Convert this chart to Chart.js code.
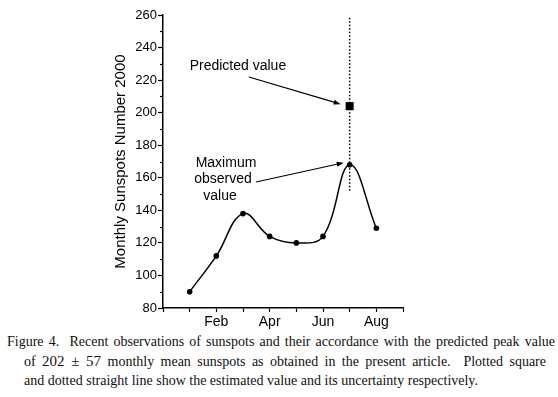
<!DOCTYPE html>
<html lang="en">
<head>
  <meta charset="UTF-8">
  <title>Monthly Sunspots Number 2000</title>
  <script src="https://cdn.jsdelivr.net/npm/chart.js"></script>
  <style>
    body { margin: 0; background: #fff; width: 558px; height: 397px; position: relative; overflow: hidden; }
    #chart-box { position: absolute; left: 0; top: 0; width: 558px; height: 330px; }
    .cap { position: absolute; font-family: "Liberation Serif", "DejaVu Serif", serif; font-size: 14px; color: #111; white-space: nowrap; }
    .just { text-align: justify; text-align-last: justify; white-space: normal; }
    .pm { font-size: 15px; }
  </style>
</head>
<body>
  <div id="chart-box"><canvas id="sunChart" width="558" height="330"></canvas></div>

  <div class="cap just" style="left:7px; top:334px; width:548px;">Figure 4.&nbsp; Recent observations of sunspots and their accordance with the predicted peak value</div>
  <div class="cap just" style="left:24px; top:353px; width:522px;">of <span class="pm">202 &plusmn; 57</span> monthly mean sunspots as obtained in the present article.&nbsp; Plotted square</div>
  <div class="cap" style="left:24px; top:373px;">and dotted straight line show the estimated value and its uncertainty respectively.</div>

  <script>
    // observed monthly values (month index: Jan = 1)
    const months = [1, 2, 3, 4, 5, 6, 7, 8];
    const sunspots = [90, 112, 138, 124, 120, 124, 168, 129];

    // predicted peak and the visible part of its uncertainty line
    const predictedMonth = 7;
    const predictedValue = 204;
    const uncertaintyRange = [152, 259];

    // axis labels
    const xTickValues = [2, 4, 6, 8];
    const xTickNames = ['Feb', 'Apr', 'Jun', 'Aug'];

    const black = '#000';

    function arrow(ctx, x1, y1, x2, y2) {
      const a = Math.atan2(y2 - y1, x2 - x1);
      const len = 7, w = 2.5;
      ctx.beginPath();
      ctx.moveTo(x1, y1);
      ctx.lineTo(x2 - Math.cos(a) * len, y2 - Math.sin(a) * len);
      ctx.stroke();
      ctx.beginPath();
      ctx.moveTo(x2, y2);
      ctx.lineTo(x2 - Math.cos(a) * len + Math.sin(a) * w, y2 - Math.sin(a) * len - Math.cos(a) * w);
      ctx.lineTo(x2 - Math.cos(a) * len - Math.sin(a) * w, y2 - Math.sin(a) * len + Math.cos(a) * w);
      ctx.closePath();
      ctx.fill();
    }

    const extras = {
      id: 'extras',
      afterDraw(chart) {
        const ctx = chart.ctx;
        const xs = chart.scales.x, ys = chart.scales.y;
        const left = chart.chartArea.left;
        ctx.save();
        ctx.strokeStyle = black;
        ctx.fillStyle = black;
        ctx.lineWidth = 1.2;

        // minor y ticks
        for (let v = 90; v < 260; v += 20) {
          const y = Math.round(ys.getPixelForValue(v)) + 0.5;
          ctx.beginPath();
          ctx.moveTo(left - 3, y);
          ctx.lineTo(left, y);
          ctx.stroke();
        }

        ctx.font = '14px Arial, "Liberation Sans", sans-serif';
        ctx.textAlign = 'center';
        ctx.textBaseline = 'middle';

        // "Predicted value" label and arrow
        ctx.fillText('Predicted value', xs.getPixelForValue(2.81), ys.getPixelForValue(228.7));
        const px = xs.getPixelForValue(predictedMonth), py = ys.getPixelForValue(predictedValue);
        arrow(ctx, xs.getPixelForValue(3.22), ys.getPixelForValue(221.9), px - 9, py - 2);

        // "Maximum observed value" label and arrow
        const mx = xs.getPixelForValue(2.25), my = ys.getPixelForValue(169.1);
        ctx.fillText('Maximum', mx + 3, my);
        ctx.fillText('observed', mx, my + 16.5);
        ctx.fillText('value', mx - 3, my + 33);
        const iMax = sunspots.indexOf(Math.max(...sunspots));
        const jx = xs.getPixelForValue(months[iMax]), jy = ys.getPixelForValue(sunspots[iMax]);
        arrow(ctx, xs.getPixelForValue(3.49), ys.getPixelForValue(157.4), jx - 6, jy - 2);

        ctx.restore();
      }
    };

    new Chart(document.getElementById('sunChart'), {
      type: 'line',
      data: {
        datasets: [
          {
            data: months.map((m, i) => ({ x: m, y: sunspots[i] })),
            borderColor: black,
            backgroundColor: black,
            borderWidth: 1.5,
            tension: 0.4,
            pointRadius: 2.8,
            pointBorderWidth: 0,
            fill: false
          },
          {
            data: uncertaintyRange.map(v => ({ x: predictedMonth, y: v })),
            borderColor: black,
            borderWidth: 1.5,
            borderDash: [1.5, 2],
            pointRadius: 0,
            fill: false
          },
          {
            data: [{ x: predictedMonth, y: predictedValue }],
            showLine: false,
            pointStyle: 'rect',
            pointRadius: 5.7,
            pointBorderWidth: 0,
            backgroundColor: black,
            borderColor: black
          }
        ]
      },
      options: {
        responsive: false,
        animation: false,
        events: [],
        layout: { padding: { left: 112, right: 155, top: 15, bottom: 0 } },
        plugins: { legend: { display: false }, tooltip: { enabled: false } },
        scales: {
          x: {
            type: 'linear',
            min: 0,
            max: 9,
            afterFit: s => { s.height = 22; },
            afterBuildTicks: s => { s.ticks = [0, 1, 2, 3, 4, 5, 6, 7, 8, 9].map(v => ({ value: v })); },
            ticks: {
              autoSkip: false,
              maxRotation: 0,
              padding: 2,
              color: black,
              font: { family: 'Arial, "Liberation Sans", sans-serif', size: 14 },
              callback: v => { const i = xTickValues.indexOf(v); return i >= 0 ? xTickNames[i] : ''; }
            },
            grid: { drawOnChartArea: false, tickLength: 4, tickWidth: 1.2, tickColor: black },
            border: { color: black, width: 1.5 }
          },
          y: {
            min: 80,
            max: 260,
            afterFit: s => { s.width = 51; },
            ticks: {
              stepSize: 10,
              padding: 1,
              color: black,
              font: { family: 'Arial, "Liberation Sans", sans-serif', size: 13 },
              callback: v => (v % 20 === 0 ? v : '')
            },
            grid: {
              drawOnChartArea: false,
              tickLength: 5,
              tickWidth: 1.2,
              tickColor: c => (c.tick && c.tick.value % 20 === 0 ? black : 'rgba(0,0,0,0)')
            },
            border: { color: black, width: 1.5 },
            title: {
              display: true,
              text: 'Monthly Sunspots Number 2000',
              color: black,
              padding: 0,
              font: { family: 'Arial, "Liberation Sans", sans-serif', size: 15 }
            }
          }
        }
      },
      plugins: [extras]
    });
  </script>
</body>
</html>
